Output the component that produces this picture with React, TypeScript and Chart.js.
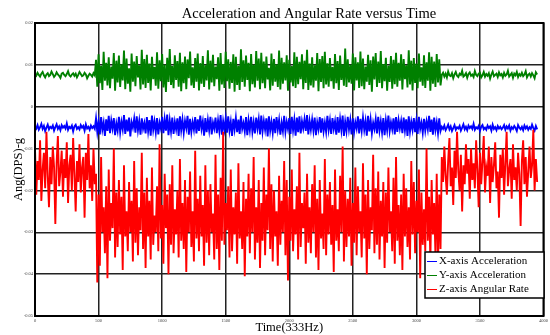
import React, { useEffect, useRef } from 'react';
import { Chart, registerables } from 'chart.js';

Chart.register(...registerables);

const TITLE = 'Acceleration and Angular Rate versus Time';
const X_TITLE = 'Time(333Hz)';
const Y_TITLE = 'Ang(DPS)-g';
const SERIES_LABELS = ['X-axis Acceleration', 'Y-axis Acceleration', 'Z-axis Angular Rate'];
const SERIES_COLORS = ['#0000ff', '#008000', '#ff0000'];
const X_TICKS = [0, 500, 1000, 1500, 2000, 2500, 3000, 3500, 4000];
const Y_TICKS = [0.02, 0.01, 0, -0.01, -0.02, -0.03, -0.04, -0.05];
const SAMPLE_STEP = 10; // time (samples) between plotted values
const VALUE_UNIT = 1e-4; // arrays below are written in units of 1e-4

// X-axis acceleration (blue)
const xAccel = [
  -47,-52,-44,-55,-49,-41,-53,-46,-58,-50,-43,-54,-48,-51,-45,-57,-49,-42,-53,-47,
  -56,-44,-50,-46,-52,-40,-55,-48,-51,-45,-59,-47,-43,-53,-49,-54,-44,-50,-46,-57,
  -42,-52,-48,-55,-45,-51,-47,-53,
  -28,-60,-35,-66,-25,-55,-38,-70,-30,-58,-22,-63,-33,-52,-27,-68,-40,-57,-24,-61,
  -36,-54,-20,-65,-31,-59,-26,-71,-37,-50,-29,-62,-23,-56,-34,-67,-28,-53,-39,-64,
  -25,-58,-32,-69,-21,-55,-35,-61,-27,-66,-38,-52,-24,-63,-30,-57,-19,-68,-33,-59,
  -26,-65,-36,-54,-28,-70,-23,-56,-31,-62,-34,-51,-22,-67,-29,-60,-37,-55,-25,-64,
  -30,-58,-21,-53,-35,-69,-27,-61,-32,-56,-24,-66,-38,-52,-26,-63,-33,-58,-20,-67,
  -35,-55,-28,-62,-23,-57,-36,-70,-29,-54,-27,-61,-31,-65,-22,-53,-39,-59,-25,-68,
  -33,-56,-24,-60,-37,-64,-26,-52,-30,-66,-21,-59,-34,-55,-28,-71,-23,-57,-36,-62,
  -29,-63,-25,-54,-32,-67,-38,-58,-22,-60,-36,-53,-27,-65,-24,-56,-31,-69,-26,-61,
  -23,-64,-35,-52,-30,-58,-20,-66,-34,-55,-31,-57,-26,-68,-37,-54,-25,-62,-28,-59,
  -38,-60,-22,-55,-33,-65,-27,-53,-35,-67,-25,-62,-30,-56,-21,-70,-36,-58,-24,-54,
  -32,-66,-28,-61,-37,-52,-23,-64,-29,-57,-26,-55,-34,-69,-22,-59,-31,-63,-38,-53,
  -30,-64,-24,-57,-35,-61,-27,-68,-33,-56,-21,-58,-37,-54,-28,-66,-25,-60,-32,-52,
  -34,-63,-26,-56,-30,-70,-23,-59,-36,-55,-27,-61,-33,-65,-24,-53,-38,-62,-29,-57,
  -35,-54,-22,-60,-31,-67,-26,-56,-37,-63,-28,-58,
  -48,-53,-45,-56,-50,-43,-54,-47,-58,-51,-44,-55,-49,-52,-46,-57,-50,-42,-54,-48,
  -56,-45,-51,-47,-53,-41,-55,-49,-52,-46,-58,-48,-44,-54,-50,-55,-45,-51,-47,-57,
  -43,-53,-49,-56,-46,-52,-48,-54,-50,-44,-55,-47,-52,-45,-57,-49,-53,-46,-51,-58,
  -44,-50,-54,-48,-56,-45,-52,-47,-55,-49,-53,-43,-51,-57,-46,-54,
];

// Y-axis acceleration (green)
const yAccel = [
  78,74,81,76,72,79,83,75,70,77,80,73,76,84,78,71,75,82,77,74,
  69,79,81,76,73,78,85,75,72,77,80,74,79,70,76,83,78,73,75,81,
  77,68,74,79,76,72,80,75,
  112,48,125,56,98,40,131,62,105,51,118,44,96,67,128,38,110,58,122,47,
  101,63,134,42,115,55,92,36,127,60,108,49,121,70,99,41,136,53,114,45,
  124,57,103,39,119,66,95,50,130,43,111,61,126,46,100,35,117,59,138,52,
  97,44,123,64,109,48,129,37,106,56,120,42,113,68,132,51,94,45,116,60,
  127,39,104,55,121,47,99,63,135,41,110,58,124,49,96,66,118,38,128,53,
  102,45,131,61,113,43,107,57,125,36,119,52,98,40,137,59,111,48,122,64,
  105,37,126,54,100,46,133,62,115,42,129,56,108,44,120,65,93,39,127,50,
  114,60,101,47,134,41,117,55,106,63,123,38,112,58,97,49,130,45,119,54,
  107,66,125,42,110,57,136,40,103,51,118,46,99,62,128,37,114,59,121,44,
  131,53,104,48,116,61,95,43,126,56,109,40,122,64,101,50,139,47,113,58,
  100,55,127,39,118,63,106,45,132,49,115,42,96,60,124,52,111,36,120,65,
  128,47,108,57,133,44,102,61,117,38,98,59,121,43,112,54,129,48,105,62,
  125,41,114,66,99,46,135,53,110,39,116,57,103,44,127,60,94,50,123,45,
  106,62,130,38,119,55,108,47,126,58,113,51,
  76,81,72,79,70,84,75,73,80,68,77,83,74,71,79,76,86,72,75,80,
  69,78,82,74,77,71,85,76,73,79,81,70,75,83,72,78,74,80,67,77,
  84,73,76,79,71,82,75,78,70,81,74,77,86,72,76,80,69,79,75,83,
  71,78,74,81,73,77,85,70,76,79,72,80,75,68,82,77,
];

// Z-axis angular rate (red)
const zRate = [
  -100,-210,-130,-175,-80,-225,-150,-110,-195,-60,-165,-240,-120,-185,-95,-145,-280,-135,-70,-190,
  -155,-105,-215,-125,-170,-85,-230,-140,-115,-200,-75,-160,-250,-130,-180,-90,-205,-145,-120,-265,
  -110,-175,-65,-195,-140,-225,-100,-185,
  -160,-420,-210,-380,-120,-300,-240,-350,-190,-410,-150,-320,-230,-290,-100,-360,-205,-335,-175,-305,
  -215,-390,-140,-310,-250,-345,-180,-300,-225,-370,-130,-325,-195,-355,-240,-295,-110,-340,-205,-385,
  -170,-310,-225,-365,-145,-330,-260,-300,-190,-345,-90,-315,-235,-375,-160,-290,-210,-400,-185,-330,
  -140,-350,-245,-305,-200,-360,-125,-320,-230,-340,-175,-395,-215,-300,-155,-335,-250,-370,-105,-315,
  -220,-345,-165,-310,-235,-380,-140,-325,-200,-355,-185,-300,-255,-365,-115,-340,-210,-390,-170,-320,
  -60,-330,-230,-295,-190,-360,-150,-345,-240,-305,-205,-375,-135,-315,-250,-340,-180,-405,-220,-310,
  -160,-350,-195,-300,-120,-365,-240,-325,-175,-385,-230,-320,-145,-355,-210,-295,-100,-340,-185,-370,
  -200,-310,-250,-380,-165,-330,-225,-300,-130,-355,-175,-415,-215,-320,-150,-345,-245,-305,-190,-365,
  -110,-335,-230,-290,-205,-375,-160,-325,-240,-350,-185,-300,-140,-360,-220,-390,-175,-315,-255,-340,
  -125,-355,-210,-305,-180,-330,-235,-395,-150,-320,-245,-345,-165,-300,-95,-370,-200,-335,-220,-310,
  -170,-380,-230,-325,-145,-355,-190,-300,-250,-360,-135,-315,-210,-400,-175,-340,-240,-295,-115,-350,
  -195,-330,-155,-365,-225,-310,-180,-385,-205,-325,-145,-300,-250,-345,-170,-375,-120,-320,-235,-355,
  -210,-390,-160,-310,-195,-335,-240,-365,-130,-305,-180,-350,-225,-300,-150,-410,-205,-330,-245,-345,
  -100,-320,-215,-370,-175,-305,-230,-355,-160,-380,-210,-340,
  -120,-180,-95,-165,-210,-130,-75,-190,-145,-235,-105,-170,-60,-155,-200,-115,-250,-140,-185,-90,
  -160,-125,-220,-100,-175,-135,-195,-80,-150,-240,-110,-185,-130,-70,-205,-145,-165,-95,-230,-120,
  -180,-140,-85,-195,-155,-265,-115,-170,-100,-210,-135,-60,-190,-150,-125,-220,-90,-175,-145,-200,
  -110,-160,-285,-130,-80,-185,-120,-215,-155,-95,-170,-140,-55,-200,-125,-180,
];

const SERIES_VALUES = [xAccel, yAccel, zRate];
const SERIF = '"Liberation Serif", "Times New Roman", Times, serif';

const overlayPlugin = {
  id: 'overlay',
  afterDraw(chart: any) {
    const { ctx, chartArea: a } = chart;
    ctx.save();
    // plot frame
    ctx.strokeStyle = '#000';
    ctx.lineWidth = 2;
    ctx.strokeRect(a.left, a.top, a.right - a.left, a.bottom - a.top);
    // title
    ctx.fillStyle = '#000';
    ctx.font = `14.5px ${SERIF}`;
    ctx.textAlign = 'center';
    ctx.textBaseline = 'middle';
    ctx.fillText(TITLE, 309, 14);
    // legend box (lower right, inside plot)
    const bx = 425, by = 252, bw = 119, bh = 46;
    ctx.fillStyle = '#fff';
    ctx.fillRect(bx, by, bw, bh);
    ctx.strokeStyle = '#000';
    ctx.lineWidth = 1.5;
    ctx.strokeRect(bx, by, bw, bh);
    ctx.font = `11px ${SERIF}`;
    ctx.textAlign = 'left';
    SERIES_LABELS.forEach((label, i) => {
      const cy = by + 9.5 + i * 14;
      ctx.strokeStyle = SERIES_COLORS[i];
      ctx.lineWidth = 1;
      ctx.beginPath();
      ctx.moveTo(bx + 2, cy);
      ctx.lineTo(bx + 12, cy);
      ctx.stroke();
      ctx.fillStyle = '#000';
      ctx.fillText(label, bx + 14, cy);
    });
    ctx.restore();
  },
};

export default function App() {
  const canvasRef = useRef<HTMLCanvasElement | null>(null);

  useEffect(() => {
    const canvas = canvasRef.current;
    if (!canvas) return;
    const drawOrder = [2, 1, 0];
    const chart = new Chart(canvas, {
      type: 'line',
      data: {
        datasets: SERIES_VALUES.map((vals, s) => ({
          label: SERIES_LABELS[s],
          data: vals.map((v, i) => ({ x: i * SAMPLE_STEP, y: v * VALUE_UNIT })),
          borderColor: SERIES_COLORS[s],
          backgroundColor: SERIES_COLORS[s],
          borderWidth: 1.9,
          pointRadius: 0,
          fill: false,
          tension: 0,
          order: drawOrder[s],
        })),
      },
      options: {
        animation: false,
        responsive: false,
        devicePixelRatio: 1,
        events: [],
        layout: { padding: { top: 23, right: 4, left: 0, bottom: 0 } },
        plugins: {
          legend: { display: false },
          title: { display: false },
          tooltip: { enabled: false },
        },
        scales: {
          x: {
            type: 'linear',
            min: 0,
            max: 4000,
            afterBuildTicks: (scale: any) => {
              scale.ticks = X_TICKS.map((v) => ({ value: v }));
            },
            afterFit: (scale: any) => {
              scale.height = 19;
            },
            grid: { color: '#222', lineWidth: 1.5, drawTicks: false },
            border: { display: false },
            ticks: {
              font: { size: 4.5, family: SERIF },
              color: '#444',
              padding: 2,
              maxRotation: 0,
              autoSkip: false,
              callback: (v: any) => String(v),
            },
            title: {
              display: true,
              text: X_TITLE,
              color: '#000',
              font: { size: 12.5, family: SERIF, lineHeight: 1 },
              padding: { top: 0, bottom: 1 },
            },
          },
          y: {
            type: 'linear',
            min: -0.05,
            max: 0.02,
            afterBuildTicks: (scale: any) => {
              scale.ticks = Y_TICKS.map((v) => ({ value: v }));
            },
            afterFit: (scale: any) => {
              scale.width = 35;
            },
            grid: { color: '#222', lineWidth: 1.5, drawTicks: false },
            border: { display: false },
            ticks: {
              font: { size: 4.5, family: SERIF },
              color: '#444',
              padding: 2,
              autoSkip: false,
              callback: (v: any) => (Math.abs(v) < 1e-9 ? '0' : Number(v).toFixed(2)),
            },
            title: {
              display: true,
              text: Y_TITLE,
              color: '#000',
              font: { size: 12.5, family: SERIF, lineHeight: 1 },
              padding: { top: 12, bottom: 0 },
            },
          },
        },
      },
      plugins: [overlayPlugin],
    } as any);
    return () => chart.destroy();
  }, []);

  return (
    <div style={{ position: 'fixed', left: 0, top: 0, width: 550, height: 335, background: '#fff' }}>
      <canvas ref={canvasRef} width={550} height={335} style={{ display: 'block', width: 550, height: 335 }} />
    </div>
  );
}
